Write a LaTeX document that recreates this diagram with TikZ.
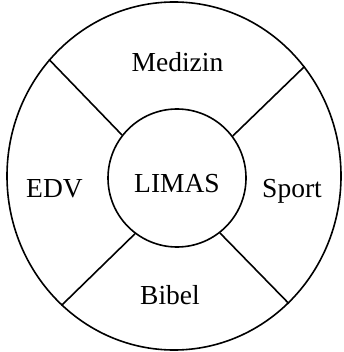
\documentclass[tikz,border=0pt]{standalone}
\usepackage{fontspec}
\setmainfont{Liberation Serif}
\usetikzlibrary{shapes.geometric}
\begin{document}
\begin{tikzpicture}[x=1pt,y=-1pt,
  ring/.style={draw,line width=1.6pt,inner sep=0pt},
  lbl/.style={anchor=base,inner sep=0pt,font=\fontsize{27.5}{30}\selectfont},
  spoke/.style={line width=1.6pt}]
\useasboundingbox (0,0) rectangle (343,352);
\node[ring,ellipse,minimum width=334pt,minimum height=348pt] (outer) at (174,176) {};
\node[ring,circle,minimum size=138pt] (inner) at (177,178) {};
\draw[spoke] (inner.142) -- (outer.137.4);
\draw[spoke] (inner.37.5) -- (outer.40.7);
\draw[spoke] (inner.233.3) -- (outer.229.7);
\draw[spoke] (inner.308.9) -- (outer.312.5);
\node[lbl] (med) at (177.5,72) {Medizin};
\node[lbl] (edv) at (54.5,197) {EDV};
\node[lbl] (limas) at (177,193) {LIMAS};
\node[lbl] (sport) at (292,197) {Sport};
\node[lbl] (bibel) at (170,304) {Bibel};
\end{tikzpicture}
\end{document}
